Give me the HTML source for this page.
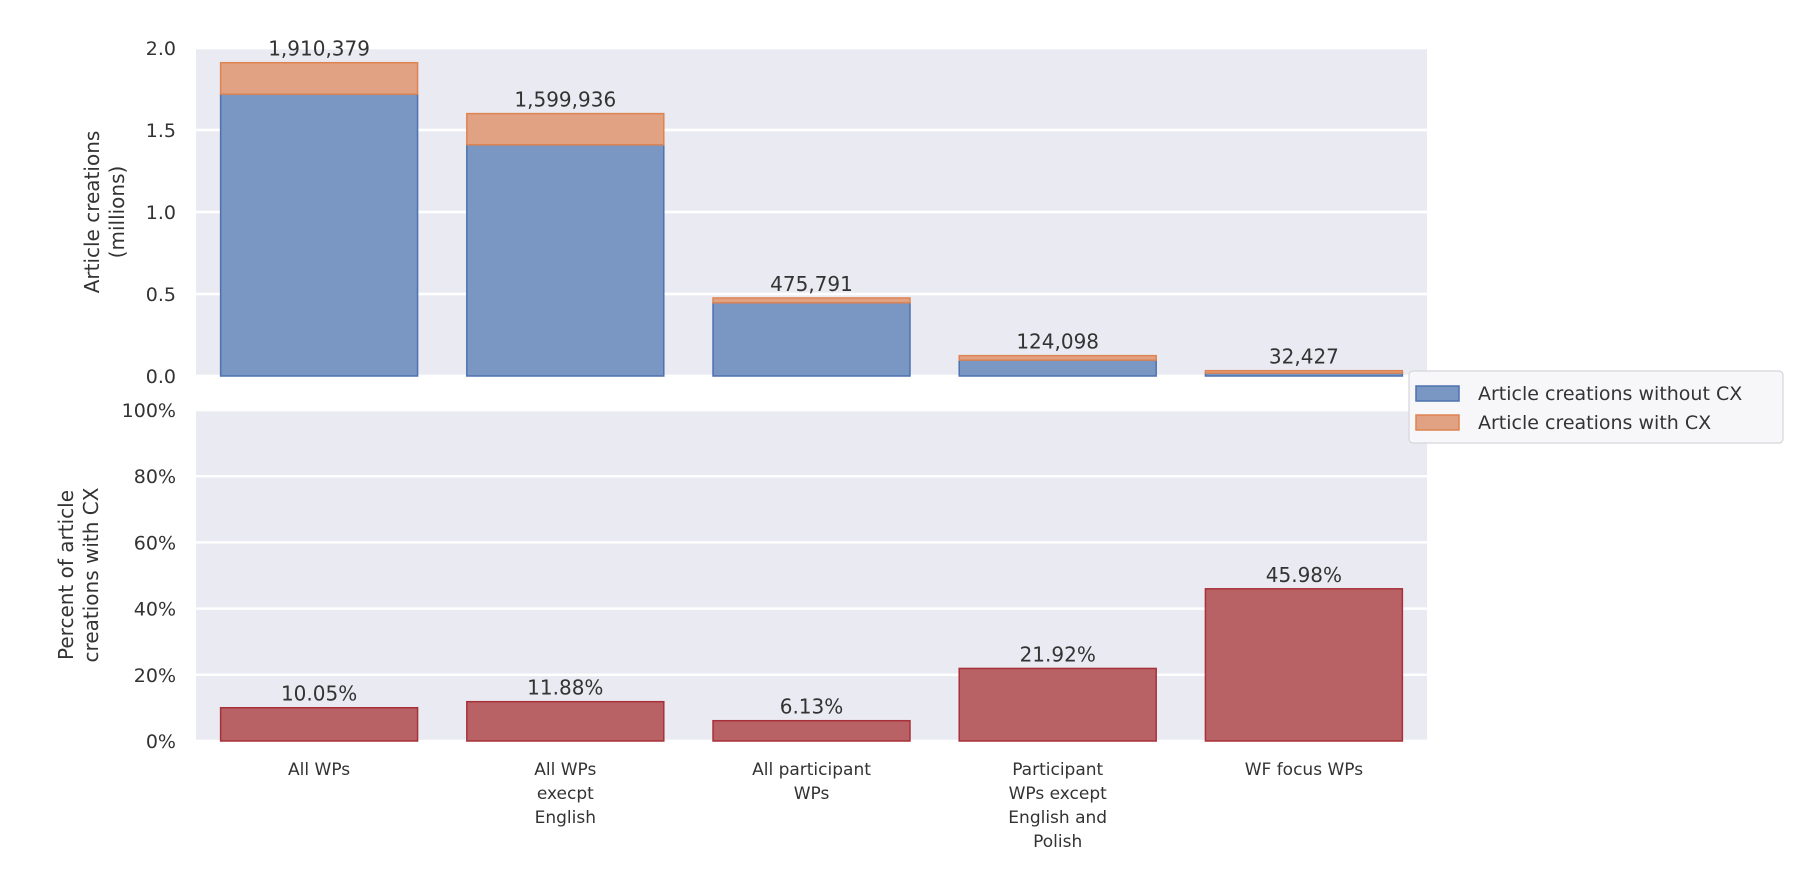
<!DOCTYPE html>
<html><head><meta charset="utf-8"><style>
body{margin:0;background:#fff;}
svg{display:block;font-family:"DejaVu Sans","Liberation Sans",sans-serif;}
</style></head><body>
<svg id="chart" width="1808" height="875"></svg>
<script>
const categories = [["All WPs"],["All WPs","execpt","English"],["All participant","WPs"],["Participant","WPs except","English and","Polish"],["WF focus WPs"]];
const totals = [1910379, 1599936, 475791, 124098, 32427];
const pctWithCX = [10.05, 11.88, 6.13, 21.92, 45.98];
const topTicks = [0, 0.5, 1.0, 1.5, 2.0];
const pctTicks = [0, 20, 40, 60, 80, 100];

const NS = "http://www.w3.org/2000/svg";
const svg = document.getElementById('chart');
function mk(tag, attrs, parent){const e=document.createElementNS(NS,tag);for(const k in attrs)e.setAttribute(k,attrs[k]);(parent||svg).appendChild(e);return e;}

const X0=196, X1=1427, slot=(X1-X0)/categories.length, bw=slot*0.8;
const T_TOP=48, T_BOT=376, B_TOP=410, B_BOT=741;
const yTop = v => T_BOT - (v/2.0)*(T_BOT-T_TOP);
const yPct = v => B_BOT - (v/100)*(B_BOT-B_TOP);
const xBar = i => X0 + slot*i + (slot-bw)/2;

// backgrounds
let bg=mk('rect',{x:X0,y:T_TOP,width:X1-X0,height:T_BOT-T_TOP,fill:'#eaeaf2'});


bg=mk('rect',{x:X0,y:B_TOP,width:X1-X0,height:B_BOT-B_TOP,fill:'#eaeaf2'});



topTicks.forEach(t=>{
  const y=yTop(t);
  const g=mk('line',{x1:X0,x2:X1,y1:y,y2:y,stroke:'#fff','stroke-width':2.5});
  
  
  const l=mk('text',{x:176,y:y+7,'text-anchor':'end','font-size':19,fill:'#333'});
  l.textContent=t.toFixed(1);
  
  
});
pctTicks.forEach(t=>{
  const y=yPct(t);
  const g=mk('line',{x1:X0,x2:X1,y1:y,y2:y,stroke:'#fff','stroke-width':2.5});
  
  
  const l=mk('text',{x:176,y:y+7,'text-anchor':'end','font-size':19,fill:'#333'});
  l.textContent=t+'%';
  
  
});

categories.forEach((c,i)=>{
  const x=xBar(i);
  const tot=totals[i]/1e6, withv=tot*pctWithCX[i]/100, without=tot-withv;
  const b=mk('rect',{x:x,y:yTop(without),width:bw,height:T_BOT-yTop(without),fill:'#7a96c2',stroke:'#4c72b0','stroke-width':1.5});
  
  
  const o=mk('rect',{x:x,y:yTop(tot),width:bw,height:yTop(without)-yTop(tot),fill:'#e1a283',stroke:'#dd8452','stroke-width':1.5});
  
  
  const tl=mk('text',{x:x+bw/2,y:yTop(tot)-7,'text-anchor':'middle','font-size':20,fill:'#333'});
  tl.textContent=totals[i].toLocaleString('en-US');
  
  
  const r=mk('rect',{x:x,y:yPct(pctWithCX[i]),width:bw,height:B_BOT-yPct(pctWithCX[i]),fill:'#b86265',stroke:'#a8303a','stroke-width':1.5});
  
  
  const pl=mk('text',{x:x+bw/2,y:yPct(pctWithCX[i])-7,'text-anchor':'middle','font-size':20,fill:'#333'});
  pl.textContent=pctWithCX[i].toFixed(2)+'%';
  
  
  c.forEach((line,j)=>{
    const xl=mk('text',{x:x+bw/2,y:775+j*24,'text-anchor':'middle','font-size':17,fill:'#333'});
    xl.textContent=line;
    
    
  });
});

function ylabel(lines,cx,cy,name){
  const t=mk('text',{transform:`translate(${cx},${cy}) rotate(-90)`,'text-anchor':'middle','font-size':20,fill:'#333'});
  
  
  lines.forEach((l,j)=>{const s=mk('tspan',{x:0,dy:j?25:0},t);s.textContent=l;});
}
ylabel(['Article creations','(millions)'],99,212,'top-y-axis-title');
ylabel(['Percent of article','creations with CX'],73,575,'bottom-y-axis-title');

// legend
const lg=mk('g',{});


mk('rect',{x:1409,y:371,width:374,height:72,rx:4,fill:'#f7f7fa',stroke:'#d5d5dc','stroke-width':1.2},lg);
const items=[['Article creations without CX','#7a96c2','#4c72b0'],['Article creations with CX','#e1a283','#dd8452']];
items.forEach((it,j)=>{
  const y=386+j*29;
  mk('rect',{x:1416,y:y,width:43,height:15,fill:it[1],stroke:it[2],'stroke-width':1.5},lg);
  const t=mk('text',{x:1478,y:y+14,'font-size':19,fill:'#333'},lg);
  t.textContent=it[0];
  
  
});
</script>
</body></html>
